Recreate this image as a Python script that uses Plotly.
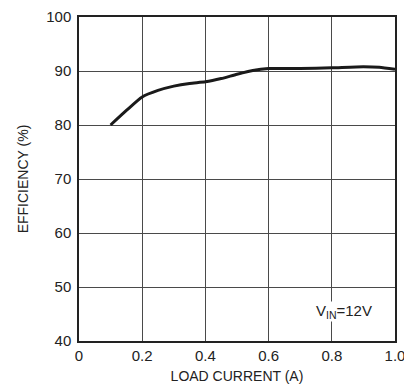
import plotly.graph_objects as go

load_current = [0.1, 0.15, 0.2, 0.25, 0.3, 0.35, 0.4, 0.45, 0.5, 0.55, 0.6, 0.7, 0.8, 0.9, 0.95, 1.0]
efficiency = [80.0, 82.7, 85.2, 86.4, 87.2, 87.7, 88.0, 88.6, 89.4, 90.1, 90.45, 90.45, 90.6, 90.8, 90.7, 90.3]

x_ticks = [0, 0.2, 0.4, 0.6, 0.8, 1.0]
x_labels = ["0", "0.2", "0.4", "0.6", "0.8", "1.0"]
y_ticks = [40, 50, 60, 70, 80, 90, 100]

FONT = "Liberation Sans, Arial, sans-serif"

fig = go.Figure()
fig.add_trace(go.Scatter(x=load_current, y=efficiency, mode="lines",
                         line=dict(color="#1a1a1a", width=3, shape="spline", smoothing=0.6),
                         showlegend=False, hoverinfo="skip"))

# page body has an 8px default margin, so the figure is sized/offset to compensate
fig.update_layout(
    width=404, height=380,
    margin=dict(l=71, r=17, t=9, b=47, autoexpand=False),
    paper_bgcolor="white", plot_bgcolor="white",
    font=dict(family=FONT, color="#222", size=14),
    xaxis=dict(range=[0, 1.0], tickvals=x_ticks, ticktext=x_labels,
               showgrid=True, gridcolor="#4a4a4a", gridwidth=1,
               showline=True, linecolor="#222", linewidth=1.5, mirror=True,
               zeroline=False, ticks="", tickfont=dict(size=15, family=FONT),
               automargin=False,
               title=dict(text="LOAD CURRENT (A)", font=dict(size=14, family=FONT), standoff=8)),
    yaxis=dict(range=[40, 100], tickvals=y_ticks,
               showgrid=True, gridcolor="#4a4a4a", gridwidth=1,
               showline=True, linecolor="#222", linewidth=1.5, mirror=True,
               zeroline=False, ticks="", tickfont=dict(size=15, family=FONT),
               ticklabelstandoff=3,
               automargin=False,
               title=dict(text="EFFICIENCY (%)", font=dict(size=14, family=FONT), standoff=14)),
    annotations=[dict(x=0.84, y=45.4, xref="x", yref="y",
                      text="V<sub>IN</sub>=12V", showarrow=False,
                      font=dict(size=15, family=FONT, color="#222"),
                      bgcolor="white", borderpad=0)],
)

fig.write_html("out.html")
